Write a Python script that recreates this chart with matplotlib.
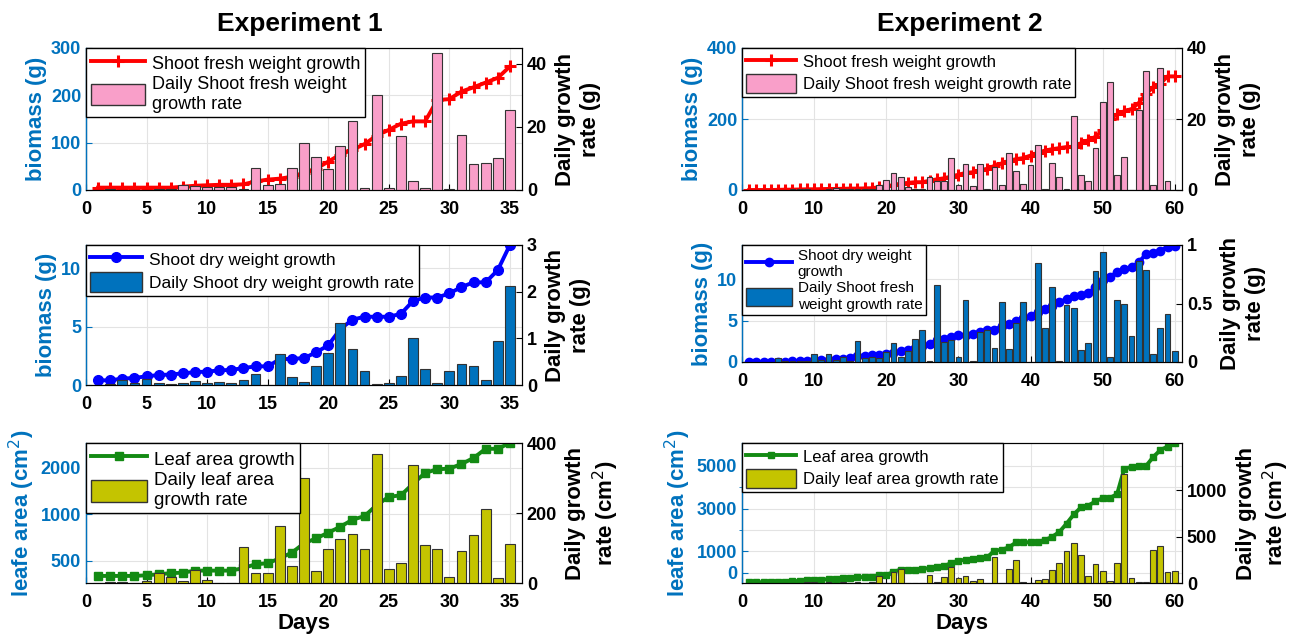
import numpy as np
import matplotlib
matplotlib.use("Agg")
from matplotlib import pyplot as plt
from matplotlib.patches import Patch
from matplotlib.lines import Line2D

plt.rcParams['font.family'] = ['Liberation Sans', 'DejaVu Sans']

LEFT_BLUE = '#0072BD'

# ---- Experiment 1 (35 days) ----
days1 = np.arange(1, 36)
exp1_fresh = [5, 5, 5, 5, 5, 5, 5, 7, 9, 10, 11, 11, 12, 18, 22, 24, 28, 35, 45, 60,
              75, 85, 97, 115, 127, 140, 145, 145, 190, 192, 208, 217, 227, 237, 261]
exp1_fresh_rate = [0, 0.3, 0, 0, 0, 0.3, 0.3, 1.5, 1.2, 1, 1, 0.8, 0.3, 7, 1.6, 2, 7, 15, 10.5, 6.8,
                   14, 22, 0.5, 30, 0.5, 17, 2.8, 0.5, 43.5, 0.3, 17.5, 8.2, 8.6, 10.2, 25.5]
exp1_dry = [0.4, 0.4, 0.55, 0.6, 0.75, 0.85, 0.9, 1.0, 1.1, 1.15, 1.25, 1.3, 1.45, 1.6, 1.6, 2.2,
            2.25, 2.3, 2.8, 3.4, 4.8, 5.6, 5.85, 5.85, 5.85, 6.1, 7.2, 7.5, 7.5, 7.85, 8.4, 8.8,
            8.8, 9.85, 12.0]
exp1_dry_rate = [0, 0.02, 0.1, 0.05, 0.12, 0.05, 0.02, 0.05, 0.08, 0.05, 0.06, 0.05, 0.1, 0.24, 0,
                 0.66, 0.17, 0.07, 0.4, 0.68, 1.32, 0.78, 0.3, 0.02, 0.05, 0.2, 1.0, 0.34, 0.05,
                 0.3, 0.46, 0.4, 0.1, 0.95, 2.12]
exp1_leaf = [400, 400, 400, 400, 404, 410, 417, 420, 433, 433, 433, 433, 450, 476, 483, 520, 566,
             650, 700, 762, 833, 924, 976, 1150, 1300, 1330, 1580, 1857, 1960, 1980, 2120, 2320,
             2660, 2660, 2900]
exp1_leaf_rate = [0, 2, 2, 0, 7, 28, 17, 5, 38, 8, 1, 1, 102, 30, 30, 162, 50, 300, 35, 97, 125,
                  140, 98, 368, 40, 56, 336, 108, 97, 18, 91, 138, 212, 14, 111]

# ---- Experiment 2 (60 days) ----
days2 = np.arange(1, 61)
exp2_fresh = [0, 0, 0, 0, 0.5, 1, 1, 1.5, 2, 2, 2.5, 3, 3, 3.5, 4, 4, 4.5, 5, 8, 10,
              14, 18, 20, 22, 22, 26, 30, 33, 38, 43, 48, 50, 55, 60, 68, 75, 82, 87, 90, 97,
              105, 111, 115, 118, 121, 122, 132, 140, 150, 168, 200, 213, 222, 228, 245, 270,
              290, 300, 320, 320]
exp2_fresh_rate = [0, 0, 0, 0, 0, 0, 0.2, 0.3, 0.2, 0.1, 0.1, 0.2, 0.5, 0.2, 0.3, 0.3, 0.2, 0.3,
                   1.3, 2.9, 4.8, 3.6, 0.8, 0.3, 0.3, 3.7, 2.4, 2.4, 9.0, 1.5, 7.4, 1.0, 7.4, 0.2,
                   6.5, 1.3, 10.3, 5.3, 1.7, 7.0, 12.8, 0.4, 7.5, 3.8, 0.2, 20.8, 4.3, 2.4, 11.8,
                   24.8, 30.3, 4.1, 9.3, 0, 22.4, 33.6, 1.3, 34.5, 2.4, 0]
exp2_dry = [0, 0, 0, 0.05, 0.05, 0.05, 0.1, 0.1, 0.15, 0.2, 0.25, 0.3, 0.35, 0.4, 0.45, 0.7,
            0.75, 0.8, 0.85, 0.95, 1.1, 1.3, 1.5, 1.7, 1.9, 2.2, 2.6, 2.8, 3.0, 3.2, 3.3, 3.4,
            3.6, 3.8, 3.9, 4.3, 4.6, 4.9, 5.3, 5.5, 6.0, 6.4, 6.8, 7.2, 7.6, 8.0, 8.1, 8.3, 9.0,
            9.9, 10.3, 10.8, 11.2, 11.4, 12.0, 13.0, 13.1, 13.4, 13.9, 14.0]
exp2_dry_rate = [0, 0, 0, 0, 0.03, 0.01, 0.01, 0.01, 0.01, 0.07, 0.02, 0.07, 0.02, 0.04, 0.01,
                 0.18, 0.03, 0.04, 0.03, 0.085, 0.16, 0.04, 0.09, 0.2, 0.27, 0.01, 0.66, 0.17,
                 0.19, 0.04, 0.53, 0.01, 0.26, 0.27, 0.12, 0.51, 0.11, 0.33, 0.51, 0.0, 0.85,
                 0.29, 0.64, 0.01, 0.49, 0.46, 0.1, 0.16, 0.78, 0.94, 0.04, 0.53, 0.5, 0.22,
                 0.86, 0.79, 0.07, 0.29, 0.41, 0.09]
exp2_leaf = [-450, -450, -440, -430, -420, -410, -400, -380, -360, -340, -320, -300, -280, -250,
             -230, -210, -200, -180, -120, -110, 40, 150, 150, 150, 160, 230, 260, 300, 460, 560,
             610, 660, 690, 720, 1040, 1070, 1190, 1420, 1420, 1430, 1450, 1530, 1680, 1910,
             2300, 2730, 3060, 3140, 3340, 3490, 3500, 3680, 4870, 4950, 4980, 4990, 5410,
             5740, 5900, 6050]
exp2_leaf_rate = [0, 0, 0, 0, 0, 0, 0, 5, 15, 10, 5, 10, 5, 10, 5, 8, 5, 10, 75, 0, 118, 154, 0,
                  0, 5, 82, 10, 64, 171, 50, 75, 20, 40, 0, 279, 0, 154, 250, 10, 5, 29, 46, 143,
                  218, 350, 429, 307, 75, 207, 125, 21, 218, 1179, 57, 10, 10, 357, 396, 118, 125]


def panel(rect, days, line_vals, bar_vals, line_style, bar_color, labels, xlim, xticks,
          lylim, lyticks, rylim, ryticks, ylabel, rlabel, log=False, minor_l=None,
          leg_size=12.5, xlabel=None):
    ax = fig.add_axes(rect)
    ax2 = ax.twinx()
    color, marker, ms = line_style
    ax.plot(days, line_vals, color=color, marker=marker, ms=ms, lw=2.8,
            mew=2.2 if marker == '+' else 1, zorder=3)
    ax2.bar(days, bar_vals, width=0.8, color=bar_color, edgecolor='#333333', linewidth=0.8)
    if log:
        ax.set_yscale('log')
        ax.yaxis.set_minor_locator(matplotlib.ticker.NullLocator())
    ax.set_ylim(*lylim)
    ax.set_yticks(lyticks)
    ax.set_yticklabels([str(t) for t in lyticks])
    if minor_l is not None:
        ax.set_yticks(minor_l, minor=True)
        ax.grid(True, which='minor', axis='y', color='#e3e3e3', lw=0.8)
    ax2.set_ylim(*rylim)
    ax2.set_yticks(ryticks)
    ax2.set_yticklabels([('%g' % t) for t in ryticks])
    ax.set_xlim(*xlim)
    ax.set_xticks(xticks)
    ax.grid(True, color='#e3e3e3', lw=0.8)
    ax.set_axisbelow(True)
    for a in (ax, ax2):
        a.tick_params(direction='in', length=4, labelsize=13, width=0.8)
        for lab in a.get_xticklabels() + a.get_yticklabels():
            lab.set_fontweight('bold')
    ax.tick_params(axis='y', colors=LEFT_BLUE, which='both')
    ax.tick_params(axis='x', pad=8)
    ax2.spines['left'].set_color(LEFT_BLUE)
    ax2.spines['left'].set_linewidth(1.0)
    ax.set_ylabel(ylabel, color=LEFT_BLUE, fontsize=16, fontweight='bold', labelpad=3)
    ax2.set_ylabel(rlabel, color='black', fontsize=16, fontweight='bold',
                   multialignment='center', labelpad=6)
    if xlabel:
        ax.set_xlabel(xlabel, fontsize=16, fontweight='bold', labelpad=1)
    handles = [Line2D([], [], color=color, marker=marker, ms=ms, lw=2.8,
                      mew=2.2 if marker == '+' else 1),
               Patch(facecolor=bar_color, edgecolor='#333333')]
    leg = ax2.legend(handles, labels, loc='upper left', borderaxespad=0, fontsize=leg_size,
                     fancybox=False, edgecolor='black', framealpha=1, handlelength=3.0,
                     handleheight=1.4, borderpad=0.25, labelspacing=0.15, handletextpad=0.4)
    leg.get_frame().set_linewidth(1.0)
    return ax, ax2


fig = plt.figure(figsize=(12.9, 6.38), dpi=100)

lx, lw_ = 86 / 1290, 436 / 1290
rx, rw = 742 / 1290, 440 / 1290
H = 638

def r(x, w, top, bot):
    return [x, 1 - bot / H, w, (bot - top) / H]

x1 = (0, 36)
t1 = [0, 5, 10, 15, 20, 25, 30, 35]
x2 = (0, 61)
t2 = [0, 10, 20, 30, 40, 50, 60]
pink = '#F99FC9'
blue_bar = '#0072BD'
olive = '#C4C400'

panel(r(lx, lw_, 48, 190), days1, exp1_fresh, exp1_fresh_rate, ('#FF0000', '+', 9), pink,
      ['Shoot fresh weight growth', 'Daily Shoot fresh weight\ngrowth rate'], x1, t1,
      (0, 300), [0, 100, 200, 300], (0, 45), [0, 20, 40], 'biomass (g)',
      'Daily growth\nrate (g)', leg_size=13)
panel(r(lx, lw_, 245, 385), days1, exp1_dry, exp1_dry_rate, ('#0000FF', 'o', 7), blue_bar,
      ['Shoot dry weight growth', 'Daily Shoot dry weight growth rate'], x1, t1,
      (0, 12), [0, 5, 10], (0, 3), [0, 1, 2, 3], 'biomass (g)', 'Daily growth\nrate (g)')
panel(r(lx, lw_, 443, 583), days1, exp1_leaf, exp1_leaf_rate, ('#138A13', 's', 6), olive,
      ['Leaf area growth', 'Daily leaf area\ngrowth rate'], x1, t1,
      (360, 2900), [500, 1000, 2000], (0, 400), [0, 200, 400], 'leafe area (cm$^2$)',
      'Daily growth\nrate (cm$^2$)', log=True, xlabel='Days', leg_size=13.5)

panel(r(rx, rw, 48, 190), days2, exp2_fresh, exp2_fresh_rate, ('#FF0000', '+', 8), pink,
      ['Shoot fresh weight growth', 'Daily Shoot fresh weight growth rate'], x2, t2,
      (0, 400), [0, 200, 400], (0, 40), [0, 20, 40], 'biomass (g)', 'Daily growth\nrate (g)',
      leg_size=12)
panel(r(rx, rw, 245, 362), days2, exp2_dry, exp2_dry_rate, ('#0000FF', 'o', 6), blue_bar,
      ['Shoot dry weight\ngrowth', 'Daily Shoot fresh\nweight growth rate'], x2, t2,
      (0, 14.1), [0, 5, 10], (0, 1), [0, 0.5, 1], 'biomass (g)', 'Daily growth\nrate (g)',
      leg_size=11)
panel(r(rx, rw, 443, 583), days2, exp2_leaf, exp2_leaf_rate, ('#138A13', 's', 4.5), olive,
      ['Leaf area growth', 'Daily leaf area growth rate'], x2, t2,
      (-480, 6070), [0, 1000, 3000, 5000], (0, 1510), [0, 500, 1000], 'leafe area (cm$^2$)',
      'Daily growth\nrate (cm$^2$)', minor_l=[2000, 4000], xlabel='Days', leg_size=12)

fig.text(300 / 1290, 1 - 24 / H, 'Experiment 1', ha='center', va='center', fontsize=19,
         fontweight='bold')
fig.text(960 / 1290, 1 - 24 / H, 'Experiment 2', ha='center', va='center', fontsize=19,
         fontweight='bold')

plt.savefig('out.png', dpi=100)
